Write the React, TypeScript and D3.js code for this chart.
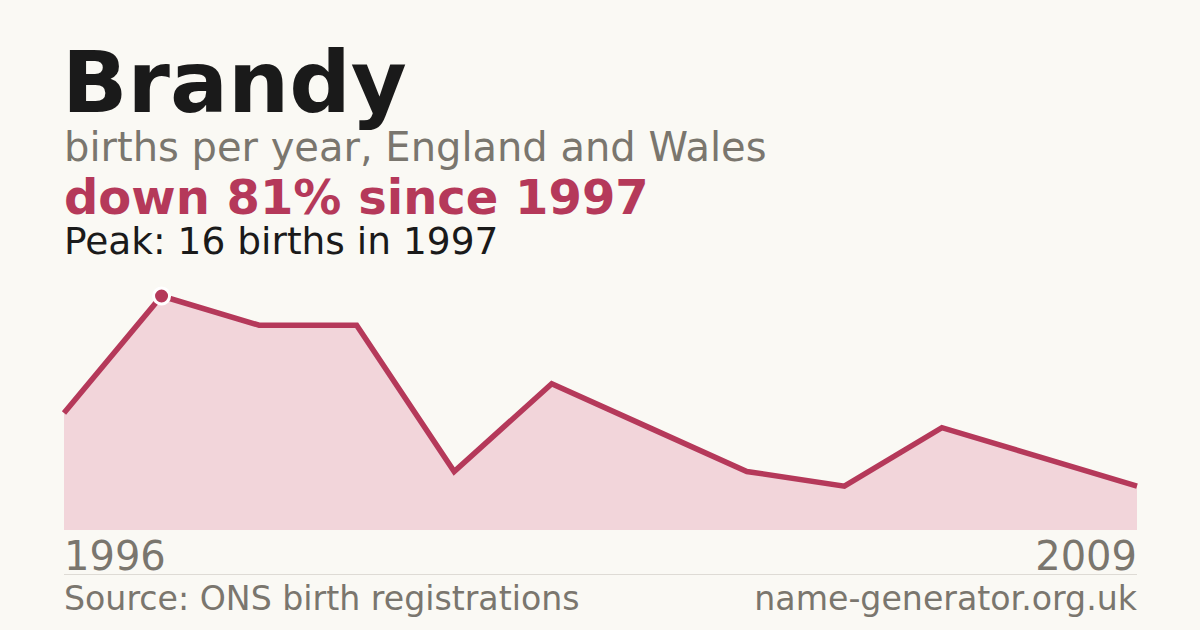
import { useEffect, useRef } from "react";
import * as d3 from "d3";

const years = [1996, 1997, 1998, 1999, 2000, 2001, 2002, 2003, 2004, 2005, 2007, 2009];
const births = [8, 16, 14, 14, 4, 10, 7, 4, 3, 7, 5, 3];

const W = 1200, H = 630;
const RED = "#b5395a";
const GREY = "#7a766e";

export default function App() {
  const ref = useRef<SVGSVGElement>(null);
  useEffect(() => {
    if (!ref.current) return;
    const svg = d3.select(ref.current);
    svg.selectAll("*").remove();
    svg.attr("viewBox", `0 0 ${W} ${H}`);
    const font = "DejaVu Sans, sans-serif";

    svg.append("rect").attr("width", W).attr("height", H).attr("fill", "#faf9f4");

    const x = d3.scalePoint<number>().domain(years).range([64, 1137]);
    const y = d3.scaleLinear([0, d3.max(births)!], [530, 296]);
    const data = years.map((yr, i) => ({ yr, v: births[i] }));

    const area = d3.area<{ yr: number; v: number }>().x((d) => x(d.yr)!).y0(y(0)).y1((d) => y(d.v));
    const line = d3.line<{ yr: number; v: number }>().x((d) => x(d.yr)!).y((d) => y(d.v));
    svg.append("path").datum(data).attr("d", area).attr("fill", "#f2d5da");
    svg.append("path").datum(data).attr("d", line).attr("fill", "none")
      .attr("stroke", RED).attr("stroke-width", 5.5).attr("stroke-linejoin", "miter");

    const peakI = births.indexOf(d3.max(births)!);
    svg.append("circle").attr("cx", x(years[peakI])!).attr("cy", y(births[peakI]))
      .attr("r", 8).attr("fill", RED).attr("stroke", "#ffffff").attr("stroke-width", 3);

    const text = (t: string, tx: number, ty: number, size: number, fill: string, weight = "normal", anchor = "start") =>
      svg.append("text").attr("x", tx).attr("y", ty).attr("font-family", font)
        .attr("font-size", size).attr("font-weight", weight).attr("fill", fill)
        .attr("text-anchor", anchor).text(t);

    text("Brandy", 62, 112, 86, "#1a1a1a", "bold");
    text("births per year, England and Wales", 64, 161, 40, GREY);
    text("down 81% since 1997", 64, 214, 48, RED, "bold");
    text("Peak: 16 births in 1997", 64, 254, 37.5, "#1a1a1a");

    text(String(years[0]), 64, 570, 40, GREY);
    text(String(years[years.length - 1]), 1137, 570, 40, GREY, "normal", "end");

    svg.append("line").attr("x1", 64).attr("x2", 1137).attr("y1", 574.5).attr("y2", 574.5)
      .attr("stroke", "#dedbd5").attr("stroke-width", 1);

    text("Source: ONS birth registrations", 64, 610, 33.2, GREY);
    text("name-generator.org.uk", 1137, 610, 33.2, GREY, "normal", "end");
  }, []);
  return (
    <svg ref={ref} width={W} height={H}
      style={{ display: "block", position: "absolute", left: 0, top: 0 }} />
  );
}
